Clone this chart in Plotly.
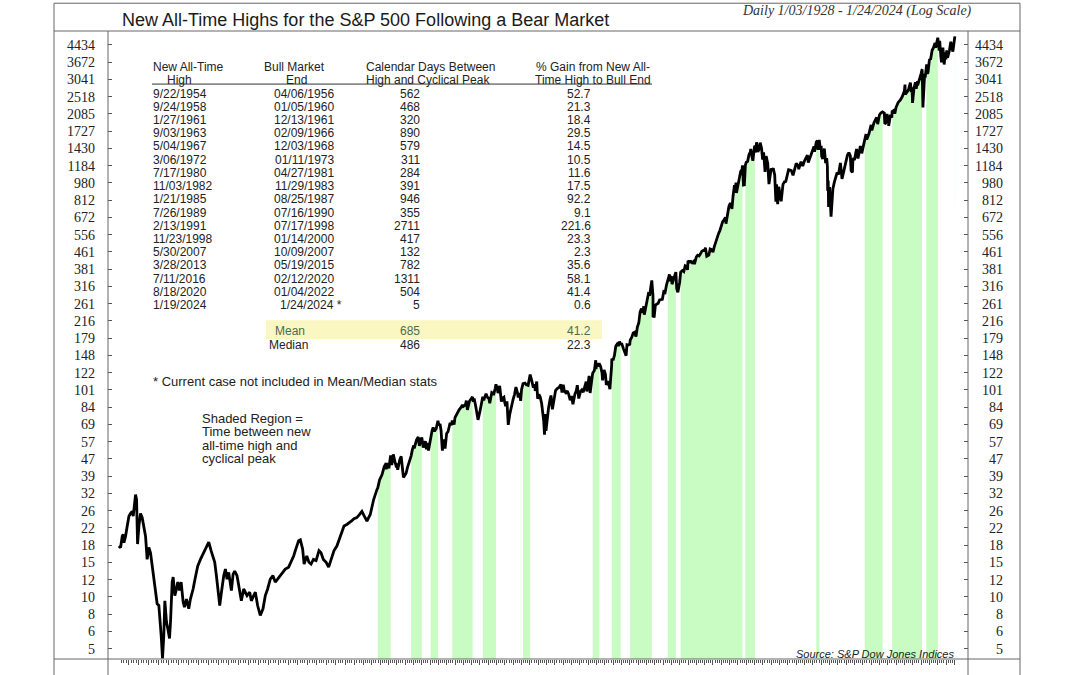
import numpy as np
import pandas as pd
import plotly.graph_objects as go

# ---------------- DATA ----------------
prices_1928_1954 = [
    ("1928-01-03", 18.4), ("1928-03-12", 18.1), ("1928-05-11", 20.5), ("1928-06-17", 20.9),
    ("1928-07-11", 19.1), ("1928-09-10", 20.5), ("1928-11-09", 22.9), ("1929-01-10", 25.5),
    ("1929-03-11", 26.3), ("1929-05-11", 26.9), ("1929-06-17", 25.5), ("1929-08-04", 29.5),
    ("1929-09-10", 32.3), ("1929-10-17", 30.6), ("1929-11-22", 18.8), ("1930-01-10", 22.9),
    ("1930-03-11", 26.3), ("1930-05-11", 25.1), ("1930-07-11", 22.5), ("1930-09-10", 20.5),
    ("1930-11-09", 15.9), ("1931-01-09", 18.1), ("1931-03-11", 17.1), ("1931-05-11", 14.8),
    ("1931-07-10", 13.3), ("1931-09-10", 11.5), ("1931-11-09", 9.78), ("1932-01-09", 9.60),
    ("1932-02-15", 8.46), ("1932-04-04", 6.93), ("1932-05-23", 5.38), ("1932-07-10", 6.93),
    ("1932-08-16", 10.1), ("1932-10-16", 8.01), ("1932-12-03", 7.45), ("1933-02-03", 6.69),
    ("1933-03-11", 8.01), ("1933-05-11", 12.4), ("1933-06-16", 13.1), ("1933-08-16", 10.7),
    ("1933-10-16", 11.5), ("1933-12-03", 12.4), ("1934-02-02", 11.3), ("1934-04-04", 12.4),
    ("1934-06-16", 9.96), ("1934-08-03", 9.43), ("1934-10-16", 10.3), ("1935-01-08", 9.26),
    ("1935-03-10", 10.3), ("1935-06-16", 11.5), ("1935-09-09", 13.1), ("1935-12-03", 14.8),
    ("1936-03-10", 15.9), ("1936-07-09", 17.1), ("1936-10-15", 18.1), ("1937-01-08", 19.2),
    ("1937-04-04", 17.5), ("1937-06-16", 16.5), ("1937-08-15", 15.4), ("1937-10-15", 13.3),
    ("1937-12-14", 11.5), ("1938-02-14", 9.60), ("1938-04-16", 11.1), ("1938-07-09", 13.3),
    ("1938-09-09", 14.3), ("1938-11-08", 12.8), ("1939-01-08", 13.8), ("1939-03-09", 11.9),
    ("1939-04-15", 11.3), ("1939-06-16", 13.5), ("1939-08-15", 14.0), ("1939-11-08", 13.3),
    ("1940-02-13", 11.1), ("1940-04-15", 10.1), ("1940-07-09", 11.5), ("1940-09-08", 11.1),
    ("1940-11-08", 10.7), ("1941-02-13", 11.1), ("1941-04-15", 10.1), ("1941-07-08", 10.7),
    ("1941-09-08", 11.1), ("1941-12-01", 9.60), ("1942-03-08", 8.61), ("1942-06-15", 9.26),
    ("1942-09-08", 10.7), ("1942-12-01", 11.5), ("1943-03-08", 12.8), ("1943-06-14", 13.3),
    ("1943-09-07", 12.4), ("1943-12-01", 12.8), ("1944-03-08", 13.3), ("1944-06-14", 13.8),
    ("1944-09-07", 14.3), ("1945-01-07", 14.6), ("1945-04-07", 15.4), ("1945-07-18", 16.5),
    ("1945-10-17", 17.8), ("1946-01-28", 19.5), ("1946-04-02", 19.7), ("1946-07-01", 17.8),
    ("1946-09-03", 15.1), ("1946-12-14", 16.5), ("1947-03-03", 15.4), ("1947-05-19", 15.1),
    ("1947-08-29", 15.9), ("1947-12-09", 15.7), ("1948-03-24", 17.5), ("1948-06-08", 17.1),
    ("1948-09-19", 15.9), ("1948-12-31", 15.4), ("1949-04-01", 14.6), ("1949-06-29", 15.9),
    ("1949-11-04", 17.5), ("1950-02-16", 18.4), ("1950-05-16", 19.8), ("1950-08-27", 21.3),
    ("1950-11-25", 22.9), ("1951-03-08", 23.3), ("1951-06-19", 23.7), ("1951-09-17", 24.2),
    ("1951-12-16", 24.8), ("1952-03-29", 25.1), ("1952-07-16", 26.0), ("1952-10-26", 26.9),
    ("1953-02-06", 25.5), ("1953-06-03", 24.2), ("1953-10-27", 26.0), ("1954-03-24", 30.6),
    ("1954-08-14", 34.1), ("1954-09-22", 34.8), ("1954-12-10", 38.0), ("1955-03-24", 40.1),
    ("1955-07-02", 43.9),
]

prices_1955_1979 = [
    ("1955-09-23", 45.6), ("1955-09-26", 42.6), ("1955-11-15", 45.7), ("1956-01-23", 43.1),
    ("1956-04-06", 49.6), ("1956-05-28", 44.6), ("1956-08-02", 50.2), ("1956-10-15", 46.2),
    ("1956-11-29", 44.4), ("1957-01-15", 44.7), ("1957-02-12", 42.4), ("1957-05-15", 47.4),
    ("1957-07-15", 49.1), ("1957-09-15", 42.4), ("1957-10-22", 39.0), ("1957-12-31", 40.0),
    ("1958-02-15", 40.8), ("1958-04-15", 43.4), ("1958-06-15", 45.2), ("1958-08-15", 47.8),
    ("1958-09-24", 49.4), ("1958-11-15", 52.7), ("1959-01-15", 55.4), ("1959-02-09", 53.6),
    ("1959-05-15", 58.7), ("1959-08-03", 60.7), ("1959-09-22", 55.1), ("1959-11-15", 58.3),
    ("1960-01-05", 60.4), ("1960-03-08", 54.0), ("1960-06-09", 58.0), ("1960-07-25", 53.0),
    ("1960-08-31", 56.9), ("1960-10-25", 52.3), ("1960-12-31", 58.1), ("1961-01-27", 61.2),
    ("1961-03-31", 65.1), ("1961-05-17", 67.4), ("1961-07-15", 64.6), ("1961-09-30", 66.7),
    ("1961-12-13", 72.5), ("1962-01-31", 68.8), ("1962-03-15", 70.0), ("1962-04-30", 65.2),
    ("1962-05-28", 55.5), ("1962-06-26", 52.3), ("1962-08-31", 59.1), ("1962-10-23", 53.5),
    ("1962-12-31", 63.1), ("1963-02-28", 64.3), ("1963-05-31", 70.8), ("1963-07-31", 69.1),
    ("1963-09-03", 72.7), ("1963-11-22", 69.6), ("1963-12-31", 75.0), ("1964-03-31", 79.0),
    ("1964-06-30", 81.7), ("1964-09-30", 84.2), ("1964-11-20", 86.3), ("1964-12-31", 84.8),
    ("1965-03-31", 86.2), ("1965-05-13", 90.3), ("1965-06-28", 81.6), ("1965-09-30", 90.0),
    ("1965-12-31", 92.4), ("1966-02-09", 94.1), ("1966-03-15", 89.2), ("1966-04-21", 92.4),
    ("1966-06-30", 84.7), ("1966-08-29", 74.5), ("1966-10-07", 73.2), ("1966-12-31", 80.3),
    ("1967-03-31", 90.2), ("1967-05-04", 94.3), ("1967-06-15", 90.6), ("1967-09-25", 97.6),
    ("1967-11-15", 94.0), ("1968-01-31", 92.2), ("1968-03-05", 87.7), ("1968-05-31", 98.7),
    ("1968-07-31", 97.7), ("1968-08-20", 96.0), ("1968-10-31", 103.4), ("1968-12-03", 108.0),
    ("1969-01-31", 103.0), ("1969-02-28", 98.1), ("1969-05-14", 106.2), ("1969-07-29", 89.5),
    ("1969-09-30", 93.1), ("1969-11-15", 93.8), ("1969-12-17", 89.2), ("1970-01-31", 85.0),
    ("1970-03-31", 89.6), ("1970-05-26", 69.3), ("1970-07-31", 78.0), ("1970-09-30", 84.2),
    ("1970-11-30", 87.2), ("1970-12-31", 92.2), ("1971-02-28", 96.8), ("1971-04-28", 104.8),
    ("1971-06-30", 99.0), ("1971-08-09", 93.5), ("1971-09-30", 98.3), ("1971-11-23", 90.2),
    ("1971-12-31", 102.1), ("1972-03-06", 108.8), ("1972-05-31", 109.5), ("1972-07-31", 107.4),
    ("1972-10-15", 106.8), ("1972-12-31", 118.0), ("1973-01-11", 120.2), ("1973-03-31", 111.5),
    ("1973-05-31", 104.2), ("1973-07-31", 108.2), ("1973-08-22", 100.5), ("1973-10-26", 111.4),
    ("1973-12-05", 92.2), ("1974-01-31", 96.6), ("1974-03-31", 94.0), ("1974-05-31", 87.3),
    ("1974-07-31", 79.3), ("1974-08-31", 72.2), ("1974-10-03", 62.3), ("1974-11-05", 78.0),
    ("1974-12-06", 65.0), ("1975-01-31", 77.0), ("1975-03-31", 83.4), ("1975-05-31", 91.2),
    ("1975-07-15", 95.6), ("1975-09-16", 82.1), ("1975-11-30", 91.2), ("1976-01-31", 100.9),
    ("1976-03-31", 102.8), ("1976-06-30", 104.3), ("1976-09-21", 107.8), ("1976-11-10", 98.8),
    ("1976-12-31", 107.5), ("1977-02-28", 99.8), ("1977-04-30", 98.4), ("1977-06-30", 100.5),
    ("1977-08-31", 96.8), ("1977-11-02", 90.7), ("1977-12-31", 95.1), ("1978-03-06", 86.9),
    ("1978-05-31", 97.3), ("1978-07-31", 100.7), ("1978-09-12", 107.0), ("1978-11-14", 92.5),
    ("1979-01-31", 99.9), ("1979-03-31", 101.6), ("1979-05-31", 99.1), ("1979-07-31", 103.8),
    ("1979-10-05", 111.3), ("1979-11-07", 99.9), ("1979-12-31", 107.9),
]

prices_1980_1999 = [
    ("1980-02-13", 118.4), ("1980-03-27", 98.2), ("1980-05-31", 111.2), ("1980-07-17", 122.0),
    ("1980-09-30", 125.5), ("1980-11-28", 140.5), ("1980-12-11", 127.4), ("1980-12-31", 135.8),
    ("1981-02-28", 131.3), ("1981-04-27", 136.0), ("1981-06-30", 131.2), ("1981-08-31", 122.8),
    ("1981-09-25", 112.8), ("1981-11-30", 126.4), ("1982-01-31", 120.4), ("1982-03-08", 107.3),
    ("1982-05-31", 111.9), ("1982-08-12", 102.4), ("1982-10-31", 133.7), ("1982-11-03", 142.9),
    ("1982-12-31", 140.6), ("1983-02-28", 148.1), ("1983-04-30", 164.4), ("1983-06-30", 168.1),
    ("1983-08-31", 164.4), ("1983-10-10", 172.7), ("1983-11-29", 167.0), ("1984-01-06", 169.3),
    ("1984-03-31", 159.2), ("1984-05-31", 150.6), ("1984-07-24", 147.8), ("1984-08-31", 166.7),
    ("1984-10-31", 166.1), ("1984-12-31", 167.2), ("1985-01-21", 175.2), ("1985-03-31", 180.7),
    ("1985-05-31", 189.6), ("1985-07-31", 190.9), ("1985-09-30", 182.1), ("1985-11-30", 202.2),
    ("1986-01-31", 211.8), ("1986-03-31", 238.9), ("1986-05-31", 247.4), ("1986-07-31", 236.1),
    ("1986-09-04", 253.8), ("1986-09-30", 231.3), ("1986-11-30", 249.2), ("1987-01-31", 274.1),
    ("1987-03-31", 291.7), ("1987-05-31", 290.1), ("1987-07-31", 318.7), ("1987-08-25", 336.8),
    ("1987-10-16", 282.7), ("1987-10-19", 224.8), ("1987-11-30", 230.3), ("1987-12-04", 223.9),
    ("1988-01-31", 257.1), ("1988-03-31", 258.9), ("1988-05-31", 262.2), ("1988-07-31", 272.0),
    ("1988-09-30", 271.9), ("1988-11-30", 273.7), ("1989-01-31", 297.5), ("1989-03-31", 294.9),
    ("1989-05-31", 320.5), ("1989-07-26", 338.2), ("1989-08-31", 351.5), ("1989-10-09", 359.8),
    ("1989-10-13", 333.7), ("1989-12-31", 353.4), ("1990-01-30", 323.0), ("1990-03-31", 339.9),
    ("1990-05-31", 361.2), ("1990-07-16", 369.0), ("1990-08-23", 307.1), ("1990-10-11", 295.5),
    ("1990-12-31", 330.2), ("1991-02-13", 369.0), ("1991-04-30", 375.4), ("1991-06-30", 371.2),
    ("1991-08-31", 395.4), ("1991-10-31", 392.5), ("1991-12-10", 377.9), ("1991-12-31", 417.1),
    ("1992-02-28", 412.7), ("1992-04-30", 415.0), ("1992-06-30", 408.1), ("1992-08-31", 414.0),
    ("1992-10-09", 402.7), ("1992-12-31", 435.7), ("1993-02-28", 443.4), ("1993-04-30", 440.2),
    ("1993-06-30", 450.5), ("1993-08-31", 463.6), ("1993-10-31", 467.8), ("1993-12-31", 466.5),
    ("1994-02-02", 482.0), ("1994-04-04", 438.9), ("1994-06-30", 444.3), ("1994-08-31", 475.5),
    ("1994-10-31", 472.4), ("1994-12-31", 459.3), ("1995-02-28", 487.4), ("1995-04-30", 514.7),
    ("1995-06-30", 544.8), ("1995-08-31", 561.9), ("1995-10-31", 581.5), ("1995-12-31", 615.9),
    ("1996-02-29", 640.4), ("1996-04-30", 654.2), ("1996-06-30", 670.6), ("1996-07-24", 626.7),
    ("1996-09-30", 687.3), ("1996-11-30", 757.0), ("1997-01-31", 786.2), ("1997-03-31", 757.1),
    ("1997-04-11", 737.6), ("1997-05-31", 848.3), ("1997-07-31", 954.3), ("1997-08-31", 899.5),
    ("1997-10-07", 983.1), ("1997-10-27", 877.0), ("1997-12-31", 970.4), ("1998-02-28", 1049.3),
    ("1998-04-30", 1111.8), ("1998-06-30", 1133.8), ("1998-07-17", 1186.8), ("1998-08-31", 957.3),
    ("1998-10-08", 959.4), ("1998-11-23", 1188.2), ("1998-12-31", 1229.2), ("1999-02-28", 1238.3),
    ("1999-04-30", 1335.2), ("1999-06-30", 1372.7), ("1999-07-16", 1418.8), ("1999-08-31", 1320.4),
    ("1999-10-15", 1247.4), ("1999-12-31", 1469.3),
]

prices_2000_2024 = [
    ("2000-01-14", 1465.2), ("2000-02-29", 1366.4), ("2000-03-24", 1527.5), ("2000-04-30", 1452.4),
    ("2000-05-23", 1373.9), ("2000-07-31", 1430.8), ("2000-09-01", 1520.8), ("2000-10-31", 1429.4),
    ("2000-12-20", 1264.7), ("2001-01-31", 1366.0), ("2001-03-31", 1160.3), ("2001-04-04", 1103.3),
    ("2001-05-21", 1312.8), ("2001-07-31", 1211.2), ("2001-09-21", 965.8), ("2001-12-31", 1148.1),
    ("2002-01-31", 1130.2), ("2002-03-31", 1147.4), ("2002-05-31", 1067.1), ("2002-07-23", 797.7),
    ("2002-08-22", 962.7), ("2002-10-09", 776.8), ("2002-11-27", 938.9), ("2003-01-31", 855.7),
    ("2003-03-11", 800.7), ("2003-05-31", 963.6), ("2003-07-31", 990.3), ("2003-09-30", 996.0),
    ("2003-11-30", 1058.2), ("2004-01-31", 1131.1), ("2004-03-31", 1126.2), ("2004-05-31", 1120.7),
    ("2004-08-12", 1063.2), ("2004-10-31", 1130.2), ("2004-12-31", 1211.9), ("2005-03-31", 1180.6),
    ("2005-04-20", 1137.5), ("2005-07-31", 1234.2), ("2005-10-13", 1176.8), ("2005-12-31", 1248.3),
    ("2006-02-28", 1280.7), ("2006-05-05", 1325.8), ("2006-06-13", 1223.7), ("2006-09-30", 1335.9),
    ("2006-12-31", 1418.3), ("2007-02-20", 1459.7), ("2007-03-14", 1377.9), ("2007-05-30", 1530.2),
    ("2007-07-19", 1553.1), ("2007-08-15", 1406.7), ("2007-10-09", 1565.2), ("2007-11-26", 1407.2),
    ("2007-12-31", 1468.4), ("2008-01-22", 1310.5), ("2008-03-10", 1273.4), ("2008-05-19", 1426.6),
    ("2008-07-15", 1214.9), ("2008-08-31", 1282.8), ("2008-09-30", 1166.4), ("2008-10-10", 899.2),
    ("2008-11-04", 1005.8), ("2008-11-20", 752.4), ("2009-01-06", 934.7), ("2009-03-09", 676.5),
    ("2009-05-31", 919.1), ("2009-07-31", 987.5), ("2009-09-30", 1057.1), ("2009-11-30", 1095.6),
    ("2010-01-31", 1073.9), ("2010-04-23", 1217.3), ("2010-07-02", 1022.6), ("2010-09-30", 1141.2),
    ("2010-12-31", 1257.6), ("2011-02-28", 1327.2), ("2011-04-29", 1363.6), ("2011-06-30", 1320.6),
    ("2011-08-08", 1119.5), ("2011-10-03", 1099.2), ("2011-10-27", 1284.6), ("2011-12-31", 1257.6),
    ("2012-02-29", 1365.7), ("2012-04-02", 1419.0), ("2012-06-01", 1278.0), ("2012-09-14", 1465.8),
    ("2012-11-15", 1353.3), ("2012-12-31", 1426.2), ("2013-03-28", 1569.2), ("2013-05-21", 1669.2),
    ("2013-06-24", 1573.1), ("2013-09-30", 1681.6), ("2013-12-31", 1848.4), ("2014-02-03", 1741.9),
    ("2014-04-30", 1884.0), ("2014-06-30", 1960.2), ("2014-08-31", 2003.4), ("2014-10-15", 1862.5),
    ("2014-12-31", 2058.9), ("2015-02-28", 2104.5), ("2015-05-19", 2127.8), ("2015-07-31", 2103.8),
    ("2015-08-25", 1867.6), ("2015-09-29", 1884.1), ("2015-11-30", 2080.4), ("2016-01-31", 1940.2),
    ("2016-02-11", 1829.1), ("2016-04-30", 2065.3), ("2016-06-27", 2000.5), ("2016-07-11", 2137.2),
    ("2016-09-30", 2168.3), ("2016-11-04", 2085.2), ("2016-12-31", 2238.8), ("2017-03-31", 2362.7),
    ("2017-06-30", 2423.4), ("2017-09-30", 2519.4), ("2017-12-31", 2673.6), ("2018-01-26", 2872.9),
    ("2018-02-08", 2581.0), ("2018-04-30", 2648.1), ("2018-06-30", 2718.4), ("2018-09-20", 2930.8),
    ("2018-10-29", 2641.3), ("2018-12-03", 2790.4), ("2018-12-24", 2351.1), ("2019-02-28", 2784.5),
    ("2019-04-30", 2945.8), ("2019-06-03", 2744.5), ("2019-07-31", 2980.4), ("2019-08-05", 2844.7),
    ("2019-10-31", 3037.6), ("2019-12-31", 3230.8), ("2020-02-12", 3379.5), ("2020-02-19", 3386.2),
    ("2020-03-23", 2237.4), ("2020-04-30", 2912.4), ("2020-06-08", 3232.4), ("2020-06-30", 3100.3),
    ("2020-08-18", 3389.8), ("2020-09-02", 3580.8), ("2020-09-23", 3236.9), ("2020-10-30", 3270.0),
    ("2020-12-31", 3756.1), ("2021-02-28", 3811.2), ("2021-04-30", 4181.2), ("2021-06-30", 4297.5),
    ("2021-08-31", 4522.7), ("2021-09-02", 4537.0), ("2021-10-04", 4300.5), ("2021-11-30", 4567.0),
    ("2021-12-31", 4766.2), ("2022-01-04", 4793.5), ("2022-03-08", 4170.7), ("2022-03-29", 4631.6),
    ("2022-05-20", 3901.4), ("2022-06-16", 3666.8), ("2022-08-16", 4305.2), ("2022-10-12", 3577.0),
    ("2022-11-30", 4080.1), ("2022-12-28", 3783.2), ("2023-02-02", 4179.8), ("2023-03-13", 3855.8),
    ("2023-05-31", 4179.8), ("2023-07-31", 4589.0), ("2023-10-27", 4117.4), ("2023-12-31", 4769.8),
    ("2024-01-19", 4839.8), ("2024-01-24", 4868.6),
]

# Table
ath_dates = ["1954-09-22", "1958-09-24", "1961-01-27", "1963-09-03", "1967-05-04", "1972-03-06",
             "1980-07-17", "1982-11-03", "1985-01-21", "1989-07-26", "1991-02-13", "1998-11-23",
             "2007-05-30", "2013-03-28", "2016-07-11", "2020-08-18", "2024-01-19"]
bull_end_dates = ["1956-04-06", "1960-01-05", "1961-12-13", "1966-02-09", "1968-12-03", "1973-01-11",
                  "1981-04-27", "1983-11-29", "1987-08-25", "1990-07-16", "1998-07-17", "2000-01-14",
                  "2007-10-09", "2015-05-19", "2020-02-12", "2022-01-04", "2024-01-24"]
ath_labels = ["9/22/1954", "9/24/1958", "1/27/1961", "9/03/1963", "5/04/1967", "3/06/1972",
              "7/17/1980", "11/03/1982", "1/21/1985", "7/26/1989", "2/13/1991", "11/23/1998",
              "5/30/2007", "3/28/2013", "7/11/2016", "8/18/2020", "1/19/2024"]
bull_end_labels = ["04/06/1956", "01/05/1960", "12/13/1961", "02/09/1966", "12/03/1968", "01/11/1973",
                   "04/27/1981", "11/29/1983", "08/25/1987", "07/16/1990", "07/17/1998", "01/14/2000",
                   "10/09/2007", "05/19/2015", "02/12/2020", "01/04/2022", "1/24/2024 *"]
days_between = ["562", "468", "320", "890", "579", "311", "284", "391", "946", "355", "2711", "417",
                "132", "782", "1311", "504", "5"]
pct_gain = ["52.7", "21.3", "18.4", "29.5", "14.5", "10.5", "11.6", "17.5", "92.2", "9.1", "221.6",
            "23.3", "2.3", "35.6", "58.1", "41.4", "0.6"]
summary_labels = ["Mean", "Median"]
summary_days = ["685", "486"]
summary_gain = ["41.2", "22.3"]

y_tick_labels = ["4434", "3672", "3041", "2518", "2085", "1727", "1430", "1184", "980", "812", "672",
                 "556", "461", "381", "316", "261", "216", "179", "148", "122", "101", "84", "69",
                 "57", "47", "39", "32", "26", "22", "18", "15", "12", "10", "8", "6", "5"]

# ---------------- helpers ----------------
W, H = 1080, 675
PL, PR, PT, PB = 108, 968, 31, 664  # plot area in pixels


def P(x):
    return (x - PL) / (PR - PL)


def Q(y):
    return (PB - y) / (PB - PT)


# trading-session axis (Saturday sessions before mid-1952, none in 1945-51 summers)
_days = pd.date_range("1927-12-01", "2024-12-31", freq="D")
_wd = _days.weekday
_sat = (_wd == 5) & (_days < pd.Timestamp("1952-06-01")) & ~(
    (_days.year >= 1945) & np.isin(_days.month, [6, 7, 8, 9]))
_trading = (_wd < 5) | _sat
_cum = pd.Series(np.cumsum(_trading), index=_days)


def sess(dates):
    return _cum.reindex(pd.to_datetime(list(dates))).to_numpy().astype(float)


all_prices = prices_1928_1954 + prices_1955_1979 + prices_1980_1999 + prices_2000_2024
p_dates = pd.to_datetime([d for d, _ in all_prices])
p_vals = np.array([v for _, v in all_prices])
order = np.argsort(p_dates.values)
p_dates = p_dates[order]
p_vals = p_vals[order]
p_x = sess(p_dates)

# axis scaling
K = 0.0319  # px per session
s_anchor = sess(["1954-09-22"])[0]
x_range = [s_anchor - (377.8 - PL) / K, s_anchor + (PR - 377.8) / K]

PX_PER_LN = 92.1
r = np.exp(17.39 / PX_PER_LN)
tickvals = [4434 / r ** k for k in range(len(y_tick_labels))]
top_val = 4434 * np.exp((45 - PT) / PX_PER_LN)
bot_val = 4434 * np.exp(-(PB - 45) / PX_PER_LN)
y_range = [np.log10(bot_val), np.log10(top_val)]
right_labels = ["\u2007" * (4 - len(t)) + t for t in y_tick_labels]

fig = go.Figure()

GREEN = "#c9fcc3"
for a, b in zip(ath_dates, bull_end_dates):
    ta, tb = pd.Timestamp(a), pd.Timestamp(b)
    m = (p_dates >= ta) & (p_dates <= tb)
    xs = p_x[m]
    ys = p_vals[m]
    fig.add_trace(go.Scatter(x=[xs[0], xs[-1]], y=[1, 1], mode="lines", line=dict(width=0),
                             hoverinfo="skip", showlegend=False))
    fig.add_trace(go.Scatter(x=xs, y=ys, mode="lines", line=dict(width=0), fill="tonexty",
                             fillcolor=GREEN, hoverinfo="skip", showlegend=False))

fig.add_trace(go.Scatter(x=p_x, y=p_vals, mode="lines", line=dict(color="black", width=2.8),
                         showlegend=False, name="S&P 500"))
fig.add_trace(go.Scatter(x=p_x[:1], y=p_vals[:1], mode="markers", marker=dict(opacity=0),
                         yaxis="y2", hoverinfo="skip", showlegend=False))

# x ticks
years = [f"{y}-01-01" for y in range(1929, 2025)]
quarters = [f"{y}-{m:02d}-01" for y in range(1928, 2025) for m in (4, 7, 10)]
quarters = [q for q in quarters if pd.Timestamp(q) <= pd.Timestamp("2024-01-24")]

AXC = "#555555"
tickfont = dict(family="Liberation Serif", size=14, color="#222222")
fig.update_layout(
    width=W, height=H,
    margin=dict(l=PL, r=W - PR, t=PT, b=H - PB),
    paper_bgcolor="white", plot_bgcolor="white",
    xaxis=dict(range=x_range, showgrid=False, zeroline=False, showticklabels=False,
               ticks="outside", ticklen=5, tickwidth=1, tickcolor=AXC,
               tickmode="array", tickvals=list(sess(years)),
               minor=dict(tickmode="array", tickvals=list(sess(quarters)), ticks="outside",
                          ticklen=3, tickwidth=1, tickcolor=AXC),
               showline=False),
    yaxis=dict(type="log", range=y_range, showgrid=False, zeroline=False,
               tickmode="array", tickvals=tickvals, ticktext=y_tick_labels,
               ticks="inside", ticklen=4, tickcolor=AXC, tickfont=tickfont,
               ticklabelstandoff=12, showline=False),
    yaxis2=dict(type="log", range=y_range, overlaying="y", side="right", showgrid=False,
                zeroline=False, tickmode="array", tickvals=tickvals, ticktext=right_labels,
                ticks="inside", ticklen=4, tickcolor=AXC, tickfont=tickfont,
                ticklabelstandoff=6, showline=False),
)

# frame lines
LC = dict(color="#666666", width=1)
shapes = [
    dict(type="rect", xref="paper", yref="paper", x0=P(54), x1=P(1020), y0=Q(3), y1=Q(690), line=LC),
    dict(type="line", xref="paper", yref="paper", x0=P(54), x1=P(1020), y0=Q(31), y1=Q(31), line=LC),
    dict(type="line", xref="paper", yref="paper", x0=P(54), x1=P(1020), y0=Q(664), y1=Q(664), line=LC),
    dict(type="line", xref="paper", yref="paper", x0=P(108), x1=P(108), y0=Q(31), y1=Q(690), line=LC),
    dict(type="line", xref="paper", yref="paper", x0=P(968), x1=P(968), y0=Q(31), y1=Q(690), line=LC),
    # table header underline
    dict(type="line", xref="paper", yref="paper", x0=P(152), x1=P(652), y0=Q(84.5), y1=Q(84.5),
         line=dict(color="#333333", width=1)),
    # mean highlight
    dict(type="rect", xref="paper", yref="paper", x0=P(266), x1=P(602), y0=Q(341.5), y1=Q(322.5),
         fillcolor="#fbf7c2", line=dict(width=0), layer="below"),
]
fig.update_layout(shapes=shapes)

SANS = "Liberation Sans"
TXT = "#222222"
anns = []
DY = 2.0  # optical offset for annotation text


def txt(x, y, s, anchor="left", size=12, color=TXT, family=SANS):
    anns.append(dict(xref="paper", yref="paper", x=P(x), y=Q(y + DY), text=s, showarrow=False,
                     xanchor=anchor, yanchor="middle", font=dict(family=family, size=size, color=color),
                     borderpad=0))


txt(121, 17.5, "New All-Time Highs for the S&P 500 Following a Bear Market", size=18, color="#1a1a1a")
txt(973, 8.5, "<i>Daily 1/03/1928 - 1/24/2024 (Log Scale)</i>", anchor="right", size=14,
    family="Liberation Serif", color="#333333")

# table header
txt(152, 65.5, "New All-Time")
txt(166, 78, "High")
txt(294, 65.5, "Bull Market", anchor="center")
txt(296, 78, "End", anchor="center")
txt(430, 65.5, "Calendar Days Between", anchor="center")
txt(428, 78, "High and Cyclical Peak", anchor="center")
txt(593, 65.5, "% Gain from New All-", anchor="center")
txt(593, 78, "Time High to Bull End", anchor="center")

ROW0, ROWSTEP = 92.0, 13.33
for i in range(len(ath_labels)):
    y = ROW0 + i * ROWSTEP
    txt(152, y, ath_labels[i])
    lab = bull_end_labels[i]
    txt(335 if not lab.endswith("*") else 343, y, lab, anchor="right")
    txt(421, y, days_between[i], anchor="right")
    txt(592, y, pct_gain[i], anchor="right")

MEANC = "#4f6b4f"
txt(274, 331.5, summary_labels[0], color=MEANC)
txt(421, 331.5, summary_days[0], anchor="right", color=MEANC)
txt(592, 331.5, summary_gain[0], anchor="right", color=MEANC)
txt(268, 345, summary_labels[1])
txt(421, 345, summary_days[1], anchor="right")
txt(592, 345, summary_gain[1], anchor="right")

txt(152, 382.5, "* Current case not included in Mean/Median stats", size=13)
for j, line in enumerate(["Shaded Region =", "Time between new", "all-time high and", "cyclical peak"]):
    txt(201, 419.5 + j * 13.4, line, size=13)

txt(955, 657, "<i>Source: S&P Dow Jones Indices</i>", anchor="right", size=11)

fig.update_layout(annotations=anns)
fig.write_html("out.html", config={"displayModeBar": False},
               post_script="document.body.style.margin='0px';document.body.style.overflow='hidden';")
